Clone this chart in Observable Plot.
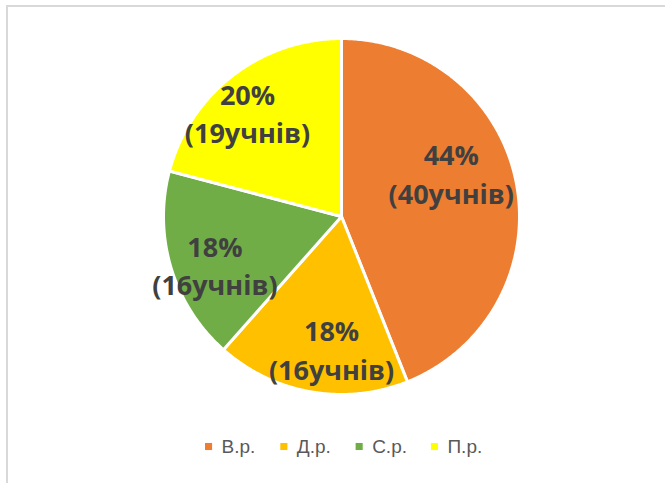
<!DOCTYPE html>
<html>
<head>
<meta charset="utf-8">
<script src="https://cdn.jsdelivr.net/npm/d3@7"></script>
<script src="https://cdn.jsdelivr.net/npm/@observablehq/plot@0.6"></script>
<style>
  html, body { margin: 0; padding: 0; background: #fff; overflow: hidden; }
  #wrap { position: relative; width: 665px; height: 483px; overflow: hidden; }
  #frame { position: absolute; left: 6px; top: 5px; width: 700px; height: 520px; border: 2px solid #d9d9d9; box-sizing: border-box; }
  #chart { position: absolute; left: 0; top: 0; }
</style>
</head>
<body>
<div id="wrap"><div id="frame"></div><div id="chart"></div></div>
<script>
const categories = ["В.р.", "Д.р.", "С.р.", "П.р."];
const counts = [40, 16, 16, 19];
const percentLabels = ["44%", "18%", "18%", "20%"];
const unitWord = "учнів";
const colors = ["#ED7D31", "#FFC000", "#70AD47", "#FFFF00"];

const W = 665, H = 483;
const cx = 341, cy = 216, R = 178;
const labelFont = "Open Sans";
const labelSize = 27;

const arcs = d3.pie().sort(null).value(d => d)(counts);

// polygon points for each slice
const slicePts = [];
arcs.forEach((a, i) => {
  slicePts.push({cat: categories[i], x: cx, y: cy});
  const n = Math.max(2, Math.ceil((a.endAngle - a.startAngle) / 0.01));
  for (let k = 0; k <= n; k++) {
    const t = a.startAngle + (a.endAngle - a.startAngle) * k / n;
    slicePts.push({cat: categories[i], x: cx + R * Math.sin(t), y: cy - R * Math.cos(t)});
  }
});

// label positions: near slice centroid, then kept horizontally within the circle
const ctx = document.createElement("canvas").getContext("2d");
ctx.font = `bold ${labelSize}px "${labelFont}"`;
const rho = 0.77 * R, tol = 22, shift = -0.1;
const labels = arcs.map((a, i) => {
  const text = `${percentLabels[i]}\n(${counts[i]}${unitWord})`;
  const w = Math.max(...text.split("\n").map(s => ctx.measureText(s).width));
  const mid = (a.startAngle + a.endAngle) / 2 + shift;
  let x = cx + rho * Math.sin(mid);
  const y = cy - rho * Math.cos(mid) - 5;
  const dy = y - cy;
  const hw = Math.sqrt(Math.max(0, R * R - dy * dy));
  const lo = cx - hw - tol + w / 2, hi = cx + hw - w / 2;
  x = Math.min(Math.max(x, lo), hi);
  return {cat: categories[i], x, y, text};
});

// legend layout
const step = 75.3;
const legend = categories.map((c, i) => ({cat: c, x: cx - 20 + (i - 1.5) * step, y: 446}));

const plot = Plot.plot({
  width: W, height: H, margin: 0,
  x: {domain: [0, W], range: [0, W], axis: null},
  y: {domain: [0, H], range: [0, H], axis: null},
  color: {domain: categories, range: colors},
  style: {background: "transparent"},
  marks: [
    Plot.line(slicePts, {x: "x", y: "y", z: "cat", fill: "cat", stroke: "white", strokeWidth: 3, strokeLinejoin: "round", curve: "linear-closed"}),
    Plot.text(labels, {x: "x", y: "y", text: "text", fill: "#404040", fontSize: labelSize, fontWeight: "bold", fontFamily: labelFont, lineAnchor: "middle", lineHeight: 1.42}),
    Plot.dot(legend, {x: "x", y: "y", fill: "cat", symbol: "square", r: 4}),
    Plot.text(legend, {x: d => d.x + 13, y: "y", text: "cat", textAnchor: "start", fill: "#595959", fontSize: 19, fontFamily: "Liberation Sans"})
  ]
});
document.getElementById("chart").appendChild(plot);
</script>
</body>
</html>
